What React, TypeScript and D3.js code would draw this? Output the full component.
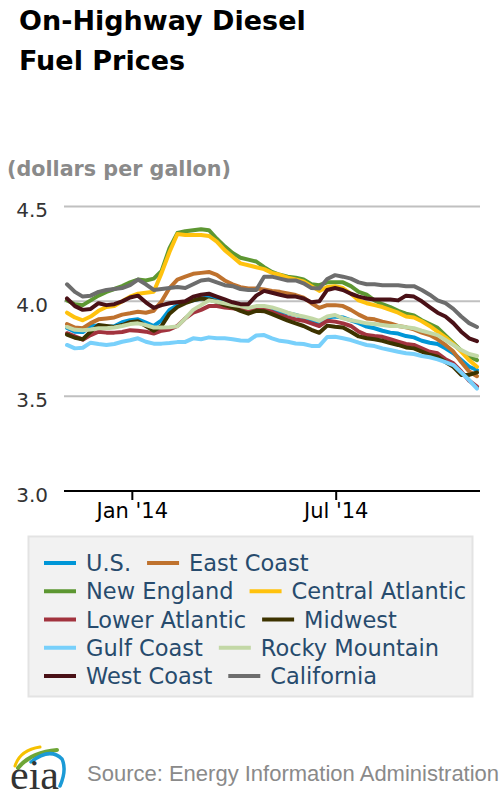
import React from 'react';
import * as d3 from 'd3';

// Weekly observation dates (Mondays)
const weekDates = [
  '2013-11-04', '2013-11-11', '2013-11-18', '2013-11-25', '2013-12-02', '2013-12-09', '2013-12-16', '2013-12-23', '2013-12-30',
  '2014-01-06', '2014-01-13', '2014-01-20', '2014-01-27', '2014-02-03', '2014-02-10', '2014-02-17', '2014-02-24',
  '2014-03-03', '2014-03-10', '2014-03-17', '2014-03-24', '2014-03-31', '2014-04-07', '2014-04-14', '2014-04-21', '2014-04-28',
  '2014-05-05', '2014-05-12', '2014-05-19', '2014-05-26', '2014-06-02', '2014-06-09', '2014-06-16', '2014-06-23', '2014-06-30',
  '2014-07-07', '2014-07-14', '2014-07-21', '2014-07-28', '2014-08-04', '2014-08-11', '2014-08-18', '2014-08-25',
  '2014-09-01', '2014-09-08', '2014-09-15', '2014-09-22', '2014-09-29', '2014-10-06', '2014-10-13', '2014-10-20', '2014-10-27',
  '2014-11-03',
];

const usPrices = [3.86, 3.84, 3.838, 3.87, 3.872, 3.865, 3.868, 3.89, 3.9, 3.905, 3.888, 3.87, 3.9, 3.955, 3.98, 3.998, 4.005, 4.015, 4.02, 4.007, 3.993, 3.98, 3.968, 3.96, 3.968, 3.965, 3.958, 3.945, 3.937, 3.928, 3.915, 3.9, 3.885, 3.915, 3.92, 3.915, 3.9, 3.885, 3.867, 3.858, 3.845, 3.835, 3.83, 3.817, 3.81, 3.792, 3.782, 3.775, 3.752, 3.726, 3.69, 3.655, 3.638];
const eastCoastPrices = [3.88, 3.862, 3.858, 3.885, 3.905, 3.91, 3.915, 3.93, 3.937, 3.945, 3.94, 3.95, 4.0, 4.07, 4.115, 4.13, 4.145, 4.15, 4.155, 4.14, 4.11, 4.09, 4.075, 4.068, 4.068, 4.063, 4.055, 4.05, 4.042, 4.033, 4.02, 3.99, 3.965, 3.98, 3.98, 3.975, 3.955, 3.93, 3.91, 3.905, 3.893, 3.884, 3.87, 3.863, 3.852, 3.835, 3.822, 3.8, 3.77, 3.735, 3.68, 3.63, 3.605];
const newEnglandPrices = [4.005, 3.985, 3.98, 4.005, 4.03, 4.05, 4.065, 4.08, 4.1, 4.115, 4.11, 4.12, 4.16, 4.28, 4.36, 4.37, 4.375, 4.38, 4.375, 4.33, 4.29, 4.255, 4.23, 4.22, 4.21, 4.18, 4.155, 4.14, 4.13, 4.125, 4.115, 4.09, 4.085, 4.1, 4.1, 4.1, 4.08, 4.05, 4.035, 4.005, 3.985, 3.97, 3.95, 3.935, 3.925, 3.9, 3.88, 3.86, 3.82, 3.78, 3.74, 3.71, 3.69];
const centralAtlanticPrices = [3.94, 3.915, 3.9, 3.92, 3.95, 3.97, 3.975, 4.0, 4.025, 4.04, 4.045, 4.05, 4.15, 4.26, 4.355, 4.35, 4.35, 4.35, 4.345, 4.315, 4.27, 4.235, 4.2, 4.19, 4.18, 4.17, 4.15, 4.14, 4.125, 4.115, 4.105, 4.08, 4.055, 4.075, 4.08, 4.07, 4.04, 4.005, 3.99, 3.98, 3.97, 3.955, 3.94, 3.92, 3.915, 3.895, 3.87, 3.84, 3.81, 3.775, 3.735, 3.69, 3.655];
const lowerAtlanticPrices = [3.832, 3.815, 3.798, 3.822, 3.84, 3.835, 3.835, 3.838, 3.848, 3.845, 3.84, 3.83, 3.845, 3.852, 3.87, 3.91, 3.94, 3.955, 3.975, 3.975, 3.968, 3.963, 3.958, 3.95, 3.963, 3.96, 3.945, 3.928, 3.915, 3.905, 3.898, 3.884, 3.87, 3.898, 3.893, 3.884, 3.87, 3.84, 3.822, 3.817, 3.813, 3.8, 3.787, 3.775, 3.77, 3.752, 3.734, 3.726, 3.695, 3.673, 3.63, 3.582, 3.55];
const midwestPrices = [3.825, 3.808, 3.8, 3.84, 3.875, 3.87, 3.865, 3.875, 3.89, 3.895, 3.87, 3.845, 3.87, 3.935, 3.97, 3.99, 4.005, 4.015, 4.01, 3.998, 3.98, 3.968, 3.95, 3.935, 3.95, 3.948, 3.933, 3.915, 3.898, 3.884, 3.87, 3.85, 3.834, 3.872, 3.866, 3.862, 3.84, 3.815, 3.805, 3.8, 3.792, 3.78, 3.77, 3.757, 3.752, 3.735, 3.718, 3.708, 3.68, 3.655, 3.612, 3.612, 3.625];
const gulfCoastPrices = [3.77, 3.752, 3.755, 3.782, 3.775, 3.77, 3.775, 3.787, 3.795, 3.805, 3.787, 3.777, 3.777, 3.78, 3.785, 3.786, 3.805, 3.8, 3.81, 3.805, 3.805, 3.8, 3.793, 3.792, 3.82, 3.822, 3.805, 3.792, 3.787, 3.778, 3.775, 3.765, 3.765, 3.812, 3.813, 3.805, 3.796, 3.782, 3.77, 3.764, 3.752, 3.743, 3.734, 3.726, 3.722, 3.712, 3.705, 3.694, 3.68, 3.664, 3.625, 3.585, 3.54];
const rockyMountainPrices = [3.865, 3.85, 3.848, 3.852, 3.858, 3.858, 3.862, 3.87, 3.88, 3.884, 3.875, 3.862, 3.862, 3.863, 3.868, 3.91, 3.955, 3.98, 4.005, 3.998, 3.99, 3.98, 3.975, 3.965, 3.975, 3.975, 3.968, 3.955, 3.94, 3.928, 3.92, 3.91, 3.897, 3.92, 3.928, 3.91, 3.9, 3.893, 3.884, 3.88, 3.875, 3.87, 3.87, 3.863, 3.858, 3.845, 3.834, 3.822, 3.796, 3.77, 3.743, 3.722, 3.712];
const westCoastPrices = [4.015, 3.975, 3.955, 3.96, 3.99, 3.98, 3.985, 4.0, 4.02, 4.03, 3.995, 3.965, 3.98, 3.99, 3.995, 4.0, 4.025, 4.035, 4.04, 4.025, 4.01, 3.995, 3.985, 3.985, 4.03, 4.055, 4.045, 4.035, 4.025, 4.025, 4.015, 3.995, 4.0, 4.06, 4.07, 4.06, 4.04, 4.025, 4.015, 4.01, 4.01, 4.01, 4.005, 4.03, 4.025, 4.0, 3.97, 3.94, 3.92, 3.885, 3.84, 3.805, 3.79];
const californiaPrices = [4.09, 4.05, 4.025, 4.03, 4.05, 4.06, 4.065, 4.07, 4.085, 4.115, 4.09, 4.06, 4.065, 4.07, 4.075, 4.07, 4.09, 4.11, 4.115, 4.1, 4.085, 4.08, 4.065, 4.06, 4.06, 4.13, 4.13, 4.12, 4.11, 4.11, 4.095, 4.07, 4.068, 4.118, 4.138, 4.13, 4.12, 4.1, 4.09, 4.09, 4.085, 4.085, 4.085, 4.08, 4.08, 4.06, 4.035, 4.005, 3.99, 3.96, 3.92, 3.885, 3.865];

const seriesNames = ['U.S.', 'East Coast', 'New England', 'Central Atlantic', 'Lower Atlantic', 'Midwest', 'Gulf Coast', 'Rocky Mountain', 'West Coast', 'California'];
const seriesColors = ['#0096d7', '#bf722e', '#5d9732', '#ffc20e', '#a2333e', '#3d3300', '#78d0fb', '#c3d8a6', '#4a1117', '#6d6d6d'];
const seriesValues = [usPrices, eastCoastPrices, newEnglandPrices, centralAtlanticPrices, lowerAtlanticPrices, midwestPrices, gulfCoastPrices, rockyMountainPrices, westCoastPrices, californiaPrices];

const yTickValues = [3.0, 3.5, 4.0, 4.5];
const xTickDates = ['2014-01-01', '2014-07-01'];

const titleLines = ['On-Highway Diesel', 'Fuel Prices'];
const unitLabel = '(dollars per gallon)';
const sourceLabel = 'Source: Energy Information Administration';

const FONT = "'DejaVu Sans', Verdana, sans-serif";
const FOOT_FONT = "'Liberation Sans', Arial, Helvetica, sans-serif";

const parseDate = (s: string) => {
  const [yy, mm, dd] = s.split('-').map(Number);
  return new Date(Date.UTC(yy, mm - 1, dd));
};

let measureCtx: CanvasRenderingContext2D | null = null;
function measureText(text: string, font: string): number {
  if (!measureCtx) {
    const c = document.createElement('canvas');
    measureCtx = c.getContext('2d');
  }
  if (!measureCtx) return text.length * 13;
  measureCtx.font = font;
  return measureCtx.measureText(text).width;
}

export default function App() {
  const W = 500;
  const H = 800;
  const plotLeft = 64;
  const plotRight = 480;

  const dates = weekDates.map(parseDate);
  const x = d3.scaleUtc().domain([dates[0], dates[dates.length - 1]]).range([67, 477]);
  const y = d3.scaleLinear().domain([3, 4.5]).range([491, 206.5]);

  const line = d3
    .line<number>()
    .x((_, i) => x(dates[i]))
    .y((v) => y(v));

  const fmt = d3.utcFormat("%b '%y");

  const legendFontSize = 22.5;
  const legendFont = `${legendFontSize}px ${FONT}`;
  const rowCount = Math.ceil(seriesNames.length / 2);
  const rowY = (r: number) => 563 + 28.25 * r;

  const legendItems: { name: string; color: string; sx: number; cy: number }[] = [];
  for (let r = 0; r < rowCount; r++) {
    const a = r * 2;
    const b = r * 2 + 1;
    const cy = rowY(r);
    legendItems.push({ name: seriesNames[a], color: seriesColors[a], sx: 44, cy });
    if (b < seriesNames.length) {
      const w = measureText(seriesNames[a], legendFont);
      legendItems.push({ name: seriesNames[b], color: seriesColors[b], sx: 85 + w + 17, cy });
    }
  }

  return (
    <svg
      width={W}
      height={H}
      viewBox={`0 0 ${W} ${H}`}
      style={{ position: 'absolute', left: 0, top: 0, background: '#fff' }}
      fontFamily={FONT}
    >
      <rect x={0} y={0} width={W} height={H} fill="#ffffff" />

      {/* Title */}
      {titleLines.map((t, i) => (
        <text key={t} x={19} y={30 + 40 * i} fontSize={27} fontWeight="bold" fill="#000">
          {t}
        </text>
      ))}

      {/* Unit label */}
      <text x={7} y={176} fontSize={20.7} fontWeight="bold" fill="#8a8a8a">
        {unitLabel}
      </text>

      {/* Grid lines */}
      {yTickValues
        .filter((v) => v > y.domain()[0])
        .map((v) => (
          <line key={`g${v}`} x1={plotLeft} x2={plotRight} y1={y(v)} y2={y(v)} stroke="#c0c0c0" strokeWidth={2} />
        ))}

      {/* Y labels */}
      {yTickValues.map((v) => (
        <text key={`yl${v}`} x={48} y={y(v) + 10.5} fontSize={20} fill="#333" textAnchor="end">
          {d3.format('.1f')(v)}
        </text>
      ))}

      {/* Series */}
      {seriesValues.map((vals, i) => (
        <path
          key={seriesNames[i]}
          d={line(vals) || ''}
          fill="none"
          stroke={seriesColors[i]}
          strokeWidth={4}
          strokeLinejoin="round"
          strokeLinecap="round"
        />
      ))}

      {/* X axis */}
      <line x1={plotLeft} x2={plotRight} y1={y(3)} y2={y(3)} stroke="#000" strokeWidth={2} />
      {xTickDates.map((s) => {
        const d = parseDate(s);
        const tx = x(d);
        return (
          <g key={s}>
            <line x1={tx} x2={tx} y1={y(3)} y2={y(3) + 9} stroke="#000" strokeWidth={2} />
            <text x={tx} y={518} fontSize={21} fill="#000" textAnchor="middle">
              {fmt(d)}
            </text>
          </g>
        );
      })}

      {/* Legend */}
      <rect x={28.5} y={536.5} width={444} height={160} fill="#f2f2f2" stroke="#e3e3e3" strokeWidth={2} />
      {legendItems.map((it) => (
        <g key={it.name}>
          <line x1={it.sx} x2={it.sx + 32} y1={it.cy} y2={it.cy} stroke={it.color} strokeWidth={4} />
          <text x={it.sx + 42} y={it.cy + 8} fontSize={legendFontSize} fill="#274b6d">
            {it.name}
          </text>
        </g>
      ))}

      {/* EIA logo */}
      <g>
        <path d="M15,766 Q20,750 40,747" fill="none" stroke="#f6c100" strokeWidth={3} strokeLinecap="round" />
        <path d="M18,768 Q31,752 57,750" fill="none" stroke="#6ea637" strokeWidth={4} strokeLinecap="round" />
        <path d="M31,762 Q50,747 62,759 Q67,770 60,786" fill="none" stroke="#1b9ad6" strokeWidth={3.5} strokeLinecap="round" />
        <text x={10} y={789} fontSize={42} fontFamily="'Liberation Serif', 'Times New Roman', serif" fill="#333">
          eia
        </text>
      </g>

      {/* Source */}
      <text x={87} y={781} fontSize={22} fontFamily={FOOT_FONT} fill="#8a8a8a">
        {sourceLabel}
      </text>
    </svg>
  );
}
